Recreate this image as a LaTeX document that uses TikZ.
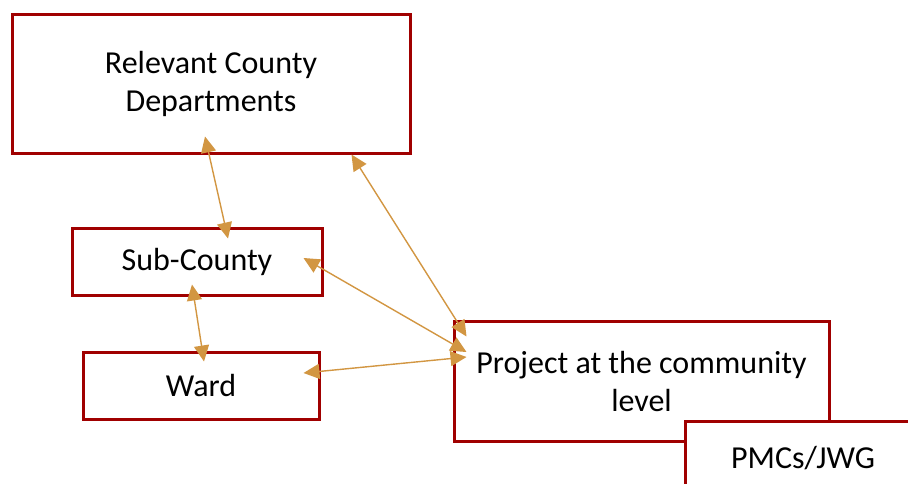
\documentclass[tikz,border=0pt]{standalone}
\usepackage{fontspec}
\setmainfont{Carlito}
\usepackage{tikz}
\usetikzlibrary{arrows.meta}
\definecolor{boxred}{RGB}{160,0,0}
\definecolor{linkgold}{RGB}{210,150,66}
\tikzset{basic/.style={draw=boxred,line width=1.5pt,fill=white,
                       align=center,inner sep=0pt}}
\tikzset{level/.style={basic,rectangle}}
\def\boxfont{\fontsize{16}{19}\selectfont}

\begin{document}
\begin{tikzpicture}[x=0.5pt,y=-0.5pt,font=\boxfont]
    \tikzstyle{link}=[<->,>={Triangle[length=8pt,width=7.5pt]},
                      color=linkgold,line width=0.7pt]
    \useasboundingbox (0,0) rectangle (908,483);

    % Draw the county side of the structure
    \node[level,minimum width=199pt,minimum height=69.5pt] (dept) at (211,83.5)
        {Relevant County\\Departments};
    \node[level,minimum width=125pt,minimum height=33.5pt] (sub) at (197,261.5)
        {Sub-County};
    \node[level,minimum width=118pt,minimum height=33.5pt] (ward) at (201,385.5)
        {Ward};

    % The project and its committee (the committee box sits over the corner)
    \node[level,minimum width=187.5pt,minimum height=60pt] (proj) at (641.5,381)
        {Project at the community\\level};
    \node[level,minimum width=118pt,minimum height=37pt] (pmc) at (803,458)
        {PMCs/JWG};

    % Two-way links between the levels
    \draw[link] ([shift={(-6,-18)}]dept.south) -- ([shift={(31,12)}]sub.north);
    \draw[link] ([shift={(-60,0)}]dept.south east) -- ([shift={(14,17)}]proj.north west);
    \draw[link] ([shift={(-20,-3.5)}]sub.east) -- ([shift={(14,-29)}]proj.west);
    \draw[link] ([shift={(-5,-12)}]sub.south) -- ([shift={(3,11)}]ward.north);
    \draw[link] ([shift={(-17,-12.5)}]ward.east) -- ([shift={(14,-24)}]proj.west);
\end{tikzpicture}
\end{document}
